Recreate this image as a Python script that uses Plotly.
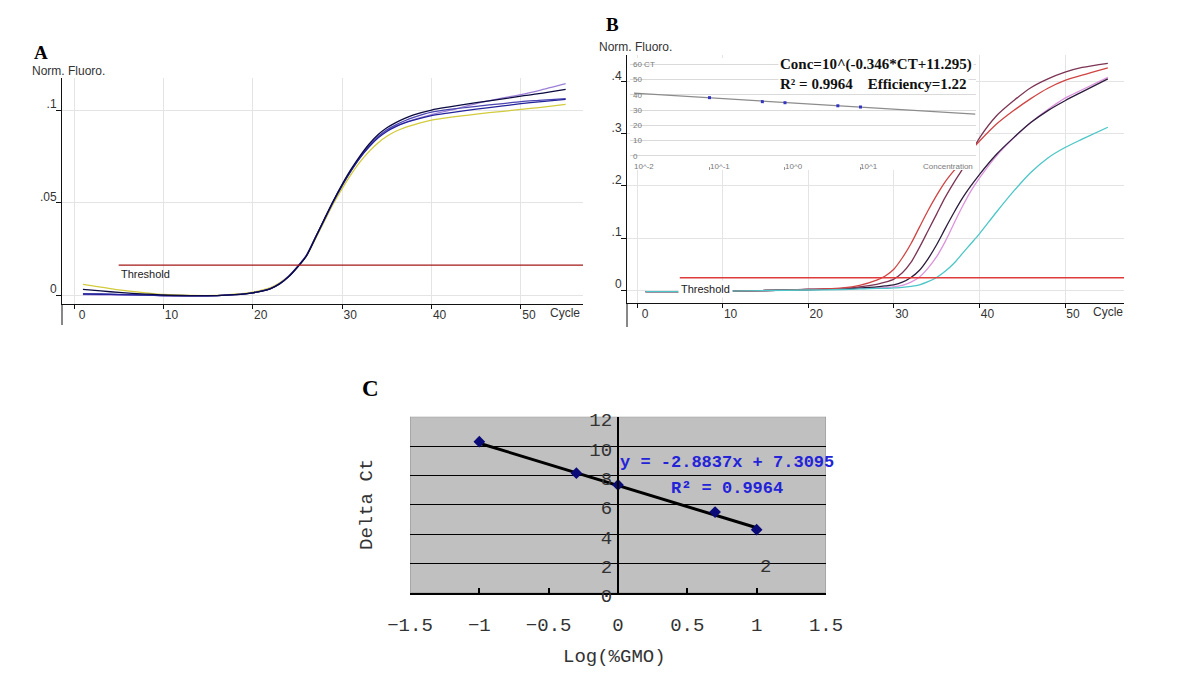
import plotly.graph_objects as go

W, H = 1200, 681


def px(x):
    return x / W


def py(y):
    return 1 - y / H


# ---------------- Panel A : amplification curves ----------------
a_cycles = [1, 3, 5, 8, 10, 13, 16, 18, 20, 21, 22, 23, 24, 25, 26, 27, 28, 29, 30,
            31, 32, 33, 34, 35, 36, 37, 38, 40, 42, 45, 48, 50, 52, 55]
a_yellow = [.0058, .0043, .0028, .0012, .0003, -.0002, -.0002, .0004, .0016, .0026, .0040,
            .0066, .0103, .0152, .0210, .0302, .0398, .0492, .0575, .0652, .0720, .0775,
            .0822, .0858, .0885, .0905, .0920, .0945, .0960, .0978, .0993, .1003, .1013, .1030]
a_navy = [.0030, .0022, .0014, .0005, .0000, -.0003, -.0003, .0002, .0012, .0021, .0035,
          .0060, .0098, .0150, .0212, .0310, .0410, .0508, .0598, .0680, .0752, .0815,
          .0866, .0904, .0932, .0955, .0974, .1000, .1017, .1040, .1060, .1075, .1088, .1112]
a_blue = [.0005, .0004, .0002, .0000, -.0003, -.0004, -.0003, .0002, .0012, .0021, .0035,
          .0061, .0100, .0153, .0213, .0310, .0408, .0505, .0593, .0672, .0742, .0800,
          .0848, .0884, .0910, .0930, .0945, .0970, .0985, .1005, .1022, .1034, .1044, .1057]
a_purple = [.0002, .0001, .0000, -.0001, -.0004, -.0004, -.0003, .0002, .0012, .0022, .0036,
            .0062, .0102, .0155, .0216, .0312, .0410, .0507, .0595, .0675, .0746, .0806,
            .0853, .0888, .0913, .0932, .0948, .0975, .0998, .1035, .1065, .1083, .1105, .1142]
a_slate = [.0008, .0006, .0003, .0001, -.0003, -.0004, -.0003, .0002, .0012, .0021, .0035,
           .0060, .0099, .0151, .0211, .0308, .0406, .0503, .0592, .0672, .0745, .0805,
           .0855, .0893, .0920, .0942, .0960, .0988, .1003, .1020, .1035, .1045, .1052, .1062]
a_threshold = 0.0162
a_threshold_start = 5
a_xticks = [0, 10, 20, 30, 40, 50]
a_yticks = [0, 0.05, 0.1]
a_yticktext = ["0", ".05", ".1"]

# ---------------- Panel B : amplification curves ----------------
b_cycles = [1, 5, 10, 15, 20, 24, 26, 28, 29, 30, 31, 32, 33, 34, 35, 36, 37, 38, 39, 40,
            42, 44, 46, 48, 50, 52, 55]
b_red = [-.003, -.003, -.002, -.001, .001, .004, .009, .019, .027, .040, .062, .089, .121,
         .153, .182, .208, .229, .248, .268, .286, .319, .345, .368, .388, .403, .413, .427]
b_maroon = [-.003, -.003, -.002, -.001, .001, .003, .006, .011, .015, .021, .033, .053, .082,
            .114, .146, .178, .206, .232, .262, .292, .335, .364, .389, .406, .419, .428, .436]
b_dark = [-.003, -.003, -.002, -.001, .001, .002, .004, .006, .008, .010, .015, .024, .038,
          .060, .087, .118, .148, .176, .200, .222, .261, .293, .322, .345, .364, .381, .406]
b_pink = [-.003, -.003, -.002, -.001, .001, .002, .003, .004, .005, .006, .009, .015, .025,
          .042, .064, .093, .127, .160, .190, .215, .258, .292, .322, .347, .369, .385, .409]
b_cyan = [-.003, -.003, -.002, -.001, .000, .001, .002, .003, .003, .004, .005, .007, .010,
          .016, .024, .036, .051, .070, .089, .108, .150, .190, .226, .254, .274, .290, .313]
b_threshold = 0.0237
b_threshold_start = 5
b_xticks = [0, 10, 20, 30, 40, 50]
b_yticks = [0, 0.1, 0.2, 0.3, 0.4]
b_yticktext = ["0", ".1", ".2", ".3", ".4"]

# inset standard curve in panel B
inset_log = [-1, -0.3, 0, 0.7, 1]
inset_ct = [38.1, 35.5, 34.8, 32.8, 32.0]
inset_fit_log = [-2.0, 2.52]
inset_fit_ct = [41.0, 27.4]
inset_yticks = [0, 10, 20, 30, 40, 50, 60]
inset_yticktext = ["0", "10", "20", "30", "40", "50", "60 CT"]
inset_xticks = [-2, -1, 0, 1]
inset_xticktext = ["10^-2", "10^-1", "10^0", "10^1"]

# ---------------- Panel C : standard curve ----------------
c_log = [-1, -0.3, 0, 0.7, 1]
c_delta = [10.3, 8.15, 7.35, 5.5, 4.3]
c_slope = -2.8837
c_intercept = 7.3095
c_fit_x = [-1, 1]
c_xticks = [-1.5, -1, -0.5, 0, 0.5, 1, 1.5]
c_xticktext = ["\u22121.5", "\u22121", "\u22120.5", "0", "0.5", "1", "1.5"]
c_yticks = [0, 2, 4, 6, 8, 10, 12]
c_ygrid = [2, 4, 6, 8, 10]

# axis ranges
A_XR = [-1.342, 56.94]
A_YR = [-0.00486, 0.1173]
B_XR = [-1.168, 56.89]
B_YR = [-0.025, 0.4519]
I_XR = [-2.053, 2.53]
I_YR = [-9.15, 64.0]
C_XR = [-1.5, 1.5]
C_YR = [0, 12]

fig = go.Figure()

# Panel A traces
for vals, col in [(a_yellow, '#d2cb3c'), (a_purple, '#9c80d8'), (a_slate, '#4b45b2'),
                  (a_blue, '#24249c'), (a_navy, '#0b0b42')]:
    fig.add_trace(go.Scatter(x=a_cycles, y=vals, mode='lines', xaxis='x', yaxis='y',
                             line=dict(color=col, width=1.3, shape='spline', smoothing=0.8),
                             hoverinfo='skip'))
fig.add_trace(go.Scatter(x=[a_threshold_start, A_XR[1]], y=[a_threshold, a_threshold],
                         mode='lines', xaxis='x', yaxis='y',
                         line=dict(color='#a31818', width=1.2), hoverinfo='skip'))

# Panel B traces
for vals, col in [(b_pink, '#dc92dc'), (b_dark, '#2c1c3c'), (b_maroon, '#7c3454'),
                  (b_red, '#d04444'), (b_cyan, '#4cc6c8')]:
    fig.add_trace(go.Scatter(x=b_cycles, y=vals, mode='lines', xaxis='x2', yaxis='y2',
                             line=dict(color=col, width=1.3, shape='spline', smoothing=0.8),
                             hoverinfo='skip'))
fig.add_trace(go.Scatter(x=[b_threshold_start, B_XR[1]], y=[b_threshold, b_threshold],
                         mode='lines', xaxis='x2', yaxis='y2',
                         line=dict(color='#e03a3a', width=1.5), hoverinfo='skip'))

# Inset traces
fig.add_trace(go.Scatter(x=inset_fit_log, y=inset_fit_ct, mode='lines', xaxis='x3', yaxis='y3',
                         line=dict(color='#8c8c8c', width=1.2), hoverinfo='skip'))
fig.add_trace(go.Scatter(x=inset_log, y=inset_ct, mode='markers', xaxis='x3', yaxis='y3',
                         marker=dict(color='#3434c4', size=3, symbol='square'), hoverinfo='skip'))

# Panel C traces
fig.add_trace(go.Scatter(x=c_fit_x, y=[c_slope * v + c_intercept for v in c_fit_x],
                         mode='lines', xaxis='x4', yaxis='y4',
                         line=dict(color='black', width=3), hoverinfo='skip'))
fig.add_trace(go.Scatter(x=c_log, y=c_delta, mode='markers', xaxis='x4', yaxis='y4',
                         marker=dict(color='#0a0a78', size=9, symbol='diamond'), hoverinfo='skip'))

small = dict(family='Liberation Sans', size=12, color='#333333')
mono = dict(family='Liberation Mono', size=19, color='#333333')
tiny = dict(family='Liberation Sans', size=8, color='#7a7a7a')

rect_axis = dict(showline=True, linecolor='#111111', linewidth=1, ticks='outside',
                 tickcolor='#111111', zeroline=False, showgrid=True, gridcolor='#e4e4e4',
                 tickfont=small, fixedrange=True, automargin=False)

fig.update_layout(
    width=W, height=H, autosize=False,
    margin=dict(l=0, r=0, t=0, b=0, pad=0, autoexpand=False),
    paper_bgcolor='white', plot_bgcolor='white', showlegend=False,
    xaxis=dict(domain=[px(62), px(583)], range=A_XR, anchor='y', tickvals=a_xticks,
               ticklen=4, ticklabelshift=8, ticklabelstandoff=-4, **rect_axis),
    yaxis=dict(domain=[py(304), py(78)], range=A_YR, anchor='x', tickvals=a_yticks,
               ticktext=a_yticktext, ticklen=5, ticklabelshift=-6, ticklabelstandoff=-3,
               **rect_axis),
    xaxis2=dict(domain=[px(627), px(1124)], range=B_XR, anchor='y2', tickvals=b_xticks,
                ticklen=4, ticklabelshift=8, ticklabelstandoff=-4, **rect_axis),
    yaxis2=dict(domain=[py(303), py(55)], range=B_YR, anchor='x2', tickvals=b_yticks,
                ticktext=b_yticktext, ticklen=5, ticklabelshift=-6, ticklabelstandoff=-3,
                **rect_axis),
    xaxis3=dict(domain=[px(630), px(976)], range=I_XR, anchor='y3', tickvals=inset_xticks,
                ticks='inside', ticklen=3, tickcolor='#999999', showticklabels=False,
                showline=False, showgrid=False, zeroline=False,
                fixedrange=True, automargin=False),
    yaxis3=dict(domain=[py(170), py(58)], range=I_YR, anchor='x3', tickvals=inset_yticks,
                ticktext=inset_yticktext, ticks='', ticklabelposition='inside',
                showline=False, showgrid=True, gridcolor='#dadada', zeroline=False,
                tickfont=tiny, fixedrange=True, automargin=False),
    xaxis4=dict(domain=[px(410), px(826)], range=C_XR, anchor='y4', tickvals=c_xticks,
                ticktext=c_xticktext, showline=True, linecolor='black', linewidth=2,
                ticks='inside', ticklen=5, tickwidth=1.5, tickcolor='black',
                ticklabelstandoff=13, showgrid=False, zeroline=False, tickfont=mono,
                fixedrange=True, automargin=False),
    yaxis4=dict(domain=[py(592.7), py(416.7)], range=C_YR, anchor='free',
                position=px(617.7), tickvals=c_yticks, showline=True, linecolor='black',
                linewidth=1.5, ticks='', showgrid=False, zeroline=False, tickfont=mono,
                ticklabelshift=3, ticklabelstandoff=1,
                minor=dict(tickvals=c_ygrid, showgrid=True, gridcolor='black', gridwidth=1.3,
                           ticks=''),
                fixedrange=True, automargin=False),
)

shapes = [
    # white panel behind the inset standard curve
    dict(type='rect', xref='x3', yref='y3', x0=I_XR[0], x1=I_XR[1], y0=I_YR[0], y1=I_YR[1],
         fillcolor='white', line=dict(width=0), layer='below'),
    # grey plot area of panel C
    dict(type='rect', xref='x4', yref='y4', x0=C_XR[0], x1=C_XR[1], y0=C_YR[0], y1=C_YR[1],
         fillcolor='#c0c0c0', line=dict(color='#8e8e8e', width=1), layer='below'),
    # y-axis stubs below the x axes of A and B
    dict(type='line', xref='paper', yref='paper', x0=px(62), x1=px(62), y0=py(304), y1=py(325),
         line=dict(color='#111111', width=1)),
    dict(type='line', xref='paper', yref='paper', x0=px(627), x1=px(627), y0=py(303), y1=py(327),
         line=dict(color='#111111', width=1)),
]
fig.update_layout(shapes=shapes)

serif_b = dict(family='Liberation Serif', size=19, color='black')


def note(text, x, y, font, xanchor='center', yanchor='middle', **kw):
    return dict(text=text, x=px(x), y=py(y), xref='paper', yref='paper', showarrow=False,
                xanchor=xanchor, yanchor=yanchor, font=font, **kw)


annotations = [
    note('<b>A</b>', 41, 52, serif_b),
    note('Norm. Fluoro.', 30, 71, small, xanchor='left'),
    note('Cycle', 565, 313, small),
    dict(text='Threshold', x=a_threshold_start, y=a_threshold, xref='x', yref='y',
         xanchor='left', yanchor='top', yshift=-1, showarrow=False,
         font=dict(family='Liberation Sans', size=11, color='#222222')),
    note('<b>B</b>', 612, 25, serif_b),
    note('Norm. Fluoro.', 597, 47, small, xanchor='left'),
    note('Cycle', 1108, 312, small),
    dict(text='Threshold', x=b_threshold_start, y=b_threshold, xref='x2', yref='y2',
         xanchor='left', yanchor='top', yshift=-2, xshift=-2, showarrow=False,
         bgcolor='white', borderpad=2,
         font=dict(family='Liberation Sans', size=11, color='#222222')),
    note('<b>Conc=10^(-0.346*CT+11.295)</b>', 778, 65,
         dict(family='Liberation Serif', size=15, color='#111111'), xanchor='left',
         bgcolor='white'),
    note('<b>R\u00b2 = 0.9964    Efficiency=1.22</b>', 778, 84,
         dict(family='Liberation Serif', size=15, color='#111111'), xanchor='left',
         bgcolor='white'),
    note('Concentration', 975, 166, tiny, xanchor='right'),
    note('<b>C</b>', 370, 388, dict(family='Liberation Serif', size=23, color='black')),
    note('Delta Ct', 367, 505, mono, textangle=-90),
    note('Log(%GMO)', 614, 657, mono),
    note('<b>y = -2.8837x + 7.3095</b>', 727, 463,
         dict(family='Liberation Mono', size=17, color='#2323d8')),
    note('<b>R\u00b2 = 0.9964</b>', 727, 488,
         dict(family='Liberation Mono', size=17, color='#2323d8')),
    note('2', 765, 567, mono),
]
# inset concentration tick labels, placed at their axis values
for val, txt in zip(inset_xticks, inset_xticktext):
    annotations.append(dict(text=txt, x=val, y=py(166), xref='x3', yref='paper',
                            xanchor='left', yanchor='middle', xshift=-2, showarrow=False,
                            font=tiny))
fig.update_layout(annotations=annotations)

fig.write_html("out.html", config={"displayModeBar": False},
               post_script="document.body.style.margin='0';document.body.style.padding='0';")
